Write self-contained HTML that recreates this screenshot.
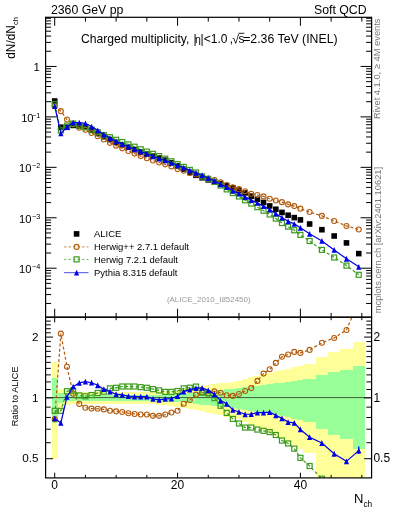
<!DOCTYPE html>
<html><head><meta charset="utf-8"><style>
html,body{margin:0;padding:0;background:#fff;}
svg{display:block;}
text{font-family:"Liberation Sans",sans-serif;}
</style></head><body>
<svg width="393" height="512" viewBox="0 0 393 512">
<rect width="393" height="512" fill="#fff"/>
<clipPath id="cr"><rect x="45.6" y="317.2" width="326" height="160.7"/></clipPath>
<clipPath id="cm"><rect x="45.6" y="17.3" width="326" height="299.9"/></clipPath>
<g clip-path="url(#cr)" shape-rendering="crispEdges">
<rect x="51.63" y="362.33" width="6.14" height="96.38" fill="#ffff99"/>
<rect x="57.77" y="389.14" width="6.14" height="18.49" fill="#ffff99"/>
<rect x="63.91" y="391.15" width="6.14" height="14.07" fill="#ffff99"/>
<rect x="70.06" y="392.13" width="6.14" height="11.95" fill="#ffff99"/>
<rect x="76.2" y="392.38" width="6.14" height="11.42" fill="#ffff99"/>
<rect x="82.34" y="392.38" width="6.14" height="11.42" fill="#ffff99"/>
<rect x="88.48" y="392.38" width="6.14" height="11.42" fill="#ffff99"/>
<rect x="94.63" y="392.38" width="6.14" height="11.42" fill="#ffff99"/>
<rect x="100.77" y="392.38" width="6.14" height="11.42" fill="#ffff99"/>
<rect x="106.91" y="392.38" width="6.14" height="11.42" fill="#ffff99"/>
<rect x="113.05" y="392.38" width="6.14" height="11.42" fill="#ffff99"/>
<rect x="119.2" y="392.38" width="6.14" height="11.42" fill="#ffff99"/>
<rect x="125.34" y="392.38" width="6.14" height="11.42" fill="#ffff99"/>
<rect x="131.48" y="392.38" width="6.14" height="11.42" fill="#ffff99"/>
<rect x="137.62" y="392.21" width="6.14" height="11.77" fill="#ffff99"/>
<rect x="143.77" y="392.01" width="6.14" height="12.21" fill="#ffff99"/>
<rect x="149.91" y="391.8" width="6.14" height="12.65" fill="#ffff99"/>
<rect x="156.05" y="391.47" width="6.14" height="13.36" fill="#ffff99"/>
<rect x="162.19" y="391.15" width="6.14" height="14.07" fill="#ffff99"/>
<rect x="168.34" y="390.54" width="6.14" height="15.39" fill="#ffff99"/>
<rect x="174.48" y="389.94" width="6.14" height="16.72" fill="#ffff99"/>
<rect x="180.62" y="389.14" width="6.14" height="18.49" fill="#ffff99"/>
<rect x="186.76" y="388.17" width="6.14" height="20.67" fill="#ffff99"/>
<rect x="192.91" y="387.22" width="6.14" height="22.85" fill="#ffff99"/>
<rect x="199.05" y="386.27" width="6.14" height="25.04" fill="#ffff99"/>
<rect x="205.19" y="385.33" width="6.14" height="27.24" fill="#ffff99"/>
<rect x="211.33" y="384.38" width="6.14" height="29.51" fill="#ffff99"/>
<rect x="217.48" y="383.44" width="6.14" height="31.78" fill="#ffff99"/>
<rect x="223.62" y="382.51" width="6.14" height="34.07" fill="#ffff99"/>
<rect x="229.76" y="381.58" width="6.14" height="36.38" fill="#ffff99"/>
<rect x="235.9" y="380.67" width="6.14" height="38.69" fill="#ffff99"/>
<rect x="242.05" y="379.06" width="6.14" height="42.87" fill="#ffff99"/>
<rect x="248.19" y="377.47" width="6.14" height="47.1" fill="#ffff99"/>
<rect x="254.33" y="375.92" width="6.14" height="51.39" fill="#ffff99"/>
<rect x="260.47" y="374.39" width="6.14" height="55.74" fill="#ffff99"/>
<rect x="266.62" y="372.88" width="6.14" height="60.15" fill="#ffff99"/>
<rect x="272.76" y="371.44" width="6.14" height="64.52" fill="#ffff99"/>
<rect x="278.9" y="370.03" width="6.14" height="68.97" fill="#ffff99"/>
<rect x="285.04" y="368.63" width="6.14" height="73.5" fill="#ffff99"/>
<rect x="291.19" y="367.26" width="6.14" height="78.12" fill="#ffff99"/>
<rect x="297.33" y="365.91" width="6.14" height="82.86" fill="#ffff99"/>
<rect x="303.47" y="364.4" width="12.28" height="88.37" fill="#ffff99"/>
<rect x="315.76" y="357" width="12.29" height="119.98" fill="#ffff99"/>
<rect x="328.04" y="351.87" width="12.29" height="148.78" fill="#ffff99"/>
<rect x="340.33" y="348.91" width="12.28" height="154.61" fill="#ffff99"/>
<rect x="352.61" y="342.15" width="12.29" height="161.37" fill="#ffff99"/>
<rect x="51.63" y="378.32" width="6.14" height="44.81" fill="#99ff99"/>
<rect x="57.77" y="393.2" width="6.14" height="9.66" fill="#99ff99"/>
<rect x="63.91" y="394.63" width="6.14" height="6.67" fill="#99ff99"/>
<rect x="70.06" y="395.14" width="6.14" height="5.62" fill="#99ff99"/>
<rect x="76.2" y="395.31" width="6.14" height="5.27" fill="#99ff99"/>
<rect x="82.34" y="395.31" width="6.14" height="5.27" fill="#99ff99"/>
<rect x="88.48" y="395.31" width="6.14" height="5.27" fill="#99ff99"/>
<rect x="94.63" y="395.31" width="6.14" height="5.27" fill="#99ff99"/>
<rect x="100.77" y="395.31" width="6.14" height="5.27" fill="#99ff99"/>
<rect x="106.91" y="395.31" width="6.14" height="5.27" fill="#99ff99"/>
<rect x="113.05" y="395.31" width="6.14" height="5.27" fill="#99ff99"/>
<rect x="119.2" y="395.31" width="6.14" height="5.27" fill="#99ff99"/>
<rect x="125.34" y="395.31" width="6.14" height="5.27" fill="#99ff99"/>
<rect x="131.48" y="395.31" width="6.14" height="5.27" fill="#99ff99"/>
<rect x="137.62" y="395.22" width="6.14" height="5.44" fill="#99ff99"/>
<rect x="143.77" y="395.09" width="6.14" height="5.7" fill="#99ff99"/>
<rect x="149.91" y="394.97" width="6.14" height="5.97" fill="#99ff99"/>
<rect x="156.05" y="394.8" width="6.14" height="6.32" fill="#99ff99"/>
<rect x="162.19" y="394.63" width="6.14" height="6.67" fill="#99ff99"/>
<rect x="168.34" y="394.33" width="6.14" height="7.29" fill="#99ff99"/>
<rect x="174.48" y="394.04" width="6.14" height="7.9" fill="#99ff99"/>
<rect x="180.62" y="393.62" width="6.14" height="8.78" fill="#99ff99"/>
<rect x="186.76" y="393" width="6.14" height="10.1" fill="#99ff99"/>
<rect x="192.91" y="392.38" width="6.14" height="11.42" fill="#99ff99"/>
<rect x="199.05" y="391.76" width="6.14" height="12.74" fill="#99ff99"/>
<rect x="205.19" y="391.15" width="6.14" height="14.07" fill="#99ff99"/>
<rect x="211.33" y="390.57" width="6.14" height="15.34" fill="#99ff99"/>
<rect x="217.48" y="389.99" width="6.14" height="16.61" fill="#99ff99"/>
<rect x="223.62" y="389.41" width="6.14" height="17.89" fill="#99ff99"/>
<rect x="229.76" y="388.84" width="6.14" height="19.17" fill="#99ff99"/>
<rect x="235.9" y="388.27" width="6.14" height="20.44" fill="#99ff99"/>
<rect x="242.05" y="387.43" width="6.14" height="22.37" fill="#99ff99"/>
<rect x="248.19" y="386.59" width="6.14" height="24.3" fill="#99ff99"/>
<rect x="254.33" y="385.76" width="6.14" height="26.23" fill="#99ff99"/>
<rect x="260.47" y="384.94" width="6.14" height="28.17" fill="#99ff99"/>
<rect x="266.62" y="384.13" width="6.14" height="30.12" fill="#99ff99"/>
<rect x="272.76" y="383.38" width="6.14" height="31.93" fill="#99ff99"/>
<rect x="278.9" y="382.64" width="6.14" height="33.75" fill="#99ff99"/>
<rect x="285.04" y="381.91" width="6.14" height="35.57" fill="#99ff99"/>
<rect x="291.19" y="381.18" width="6.14" height="37.4" fill="#99ff99"/>
<rect x="297.33" y="380.46" width="6.14" height="39.24" fill="#99ff99"/>
<rect x="303.47" y="379.03" width="12.28" height="42.95" fill="#99ff99"/>
<rect x="315.76" y="375.02" width="12.29" height="53.92" fill="#99ff99"/>
<rect x="328.04" y="372.09" width="12.29" height="62.52" fill="#99ff99"/>
<rect x="340.33" y="370.15" width="12.28" height="68.56" fill="#99ff99"/>
<rect x="352.61" y="365.91" width="12.29" height="82.86" fill="#99ff99"/>
</g>
<line x1="45.6" y1="397.6" x2="371.6" y2="397.6" stroke="#000" stroke-width="0.9" stroke-opacity="0.7"/>
<g clip-path="url(#cr)"><path d="M54.7 419.14 L60.84 333.65 L66.98 366.71 L73.13 393.7 L79.27 403.89 L85.41 407.73 L91.56 408.62 L97.7 408.82 L103.84 409.41 L109.98 410.72 L116.12 411.34 L122.27 411.95 L128.41 413.3 L134.55 413.93 L140.69 414.56 L146.84 414.56 L152.98 415.85 L159.12 415.85 L165.26 414.56 L171.41 412.57 L177.55 410.72 L183.69 403.7 L189.83 400.03 L195.98 394.63 L202.12 392.62 L208.26 393.2 L214.41 391.39 L220.55 392.79 L226.69 395.31 L232.83 395.91 L238.98 394.04 L245.12 391.07 L251.26 388.11 L257.4 380.89 L263.55 373.61 L269.69 369.26 L275.83 362.92 L281.97 356.78 L288.12 354.5 L294.26 351.92 L300.4 352.91 L309.61 349.92 L321.9 342.71 L334.18 337.97 L346.47 329.94 L358.75 301.52" fill="none" stroke="#b35a0a" stroke-width="1.2" stroke-dasharray="3,2.2"/><circle cx="54.7" cy="419.14" r="2.5" fill="none" stroke="#b35a0a" stroke-width="1.1"/><circle cx="60.84" cy="333.65" r="2.5" fill="none" stroke="#b35a0a" stroke-width="1.1"/><circle cx="66.98" cy="366.71" r="2.5" fill="none" stroke="#b35a0a" stroke-width="1.1"/><circle cx="73.13" cy="393.7" r="2.5" fill="none" stroke="#b35a0a" stroke-width="1.1"/><circle cx="79.27" cy="403.89" r="2.5" fill="none" stroke="#b35a0a" stroke-width="1.1"/><circle cx="85.41" cy="407.73" r="2.5" fill="none" stroke="#b35a0a" stroke-width="1.1"/><circle cx="91.56" cy="408.62" r="2.5" fill="none" stroke="#b35a0a" stroke-width="1.1"/><circle cx="97.7" cy="408.82" r="2.5" fill="none" stroke="#b35a0a" stroke-width="1.1"/><circle cx="103.84" cy="409.41" r="2.5" fill="none" stroke="#b35a0a" stroke-width="1.1"/><circle cx="109.98" cy="410.72" r="2.5" fill="none" stroke="#b35a0a" stroke-width="1.1"/><circle cx="116.12" cy="411.34" r="2.5" fill="none" stroke="#b35a0a" stroke-width="1.1"/><circle cx="122.27" cy="411.95" r="2.5" fill="none" stroke="#b35a0a" stroke-width="1.1"/><circle cx="128.41" cy="413.3" r="2.5" fill="none" stroke="#b35a0a" stroke-width="1.1"/><circle cx="134.55" cy="413.93" r="2.5" fill="none" stroke="#b35a0a" stroke-width="1.1"/><circle cx="140.69" cy="414.56" r="2.5" fill="none" stroke="#b35a0a" stroke-width="1.1"/><circle cx="146.84" cy="414.56" r="2.5" fill="none" stroke="#b35a0a" stroke-width="1.1"/><circle cx="152.98" cy="415.85" r="2.5" fill="none" stroke="#b35a0a" stroke-width="1.1"/><circle cx="159.12" cy="415.85" r="2.5" fill="none" stroke="#b35a0a" stroke-width="1.1"/><circle cx="165.26" cy="414.56" r="2.5" fill="none" stroke="#b35a0a" stroke-width="1.1"/><circle cx="171.41" cy="412.57" r="2.5" fill="none" stroke="#b35a0a" stroke-width="1.1"/><circle cx="177.55" cy="410.72" r="2.5" fill="none" stroke="#b35a0a" stroke-width="1.1"/><circle cx="183.69" cy="403.7" r="2.5" fill="none" stroke="#b35a0a" stroke-width="1.1"/><circle cx="189.83" cy="400.03" r="2.5" fill="none" stroke="#b35a0a" stroke-width="1.1"/><circle cx="195.98" cy="394.63" r="2.5" fill="none" stroke="#b35a0a" stroke-width="1.1"/><circle cx="202.12" cy="392.62" r="2.5" fill="none" stroke="#b35a0a" stroke-width="1.1"/><circle cx="208.26" cy="393.2" r="2.5" fill="none" stroke="#b35a0a" stroke-width="1.1"/><circle cx="214.41" cy="391.39" r="2.5" fill="none" stroke="#b35a0a" stroke-width="1.1"/><circle cx="220.55" cy="392.79" r="2.5" fill="none" stroke="#b35a0a" stroke-width="1.1"/><circle cx="226.69" cy="395.31" r="2.5" fill="none" stroke="#b35a0a" stroke-width="1.1"/><circle cx="232.83" cy="395.91" r="2.5" fill="none" stroke="#b35a0a" stroke-width="1.1"/><circle cx="238.98" cy="394.04" r="2.5" fill="none" stroke="#b35a0a" stroke-width="1.1"/><circle cx="245.12" cy="391.07" r="2.5" fill="none" stroke="#b35a0a" stroke-width="1.1"/><circle cx="251.26" cy="388.11" r="2.5" fill="none" stroke="#b35a0a" stroke-width="1.1"/><circle cx="257.4" cy="380.89" r="2.5" fill="none" stroke="#b35a0a" stroke-width="1.1"/><circle cx="263.55" cy="373.61" r="2.5" fill="none" stroke="#b35a0a" stroke-width="1.1"/><circle cx="269.69" cy="369.26" r="2.5" fill="none" stroke="#b35a0a" stroke-width="1.1"/><circle cx="275.83" cy="362.92" r="2.5" fill="none" stroke="#b35a0a" stroke-width="1.1"/><circle cx="281.97" cy="356.78" r="2.5" fill="none" stroke="#b35a0a" stroke-width="1.1"/><circle cx="288.12" cy="354.5" r="2.5" fill="none" stroke="#b35a0a" stroke-width="1.1"/><circle cx="294.26" cy="351.92" r="2.5" fill="none" stroke="#b35a0a" stroke-width="1.1"/><circle cx="300.4" cy="352.91" r="2.5" fill="none" stroke="#b35a0a" stroke-width="1.1"/><circle cx="309.61" cy="349.92" r="2.5" fill="none" stroke="#b35a0a" stroke-width="1.1"/><circle cx="321.9" cy="342.71" r="2.5" fill="none" stroke="#b35a0a" stroke-width="1.1"/><circle cx="334.18" cy="337.97" r="2.5" fill="none" stroke="#b35a0a" stroke-width="1.1"/><circle cx="346.47" cy="329.94" r="2.5" fill="none" stroke="#b35a0a" stroke-width="1.1"/><circle cx="358.75" cy="301.52" r="2.5" fill="none" stroke="#b35a0a" stroke-width="1.1"/></g>
<g clip-path="url(#cr)"><path d="M54.7 410.83 L60.84 410.83 L66.98 391.23 L73.13 390.5 L79.27 395.39 L85.41 396.33 L91.56 395.05 L97.7 392.95 L103.84 391.64 L109.98 388.35 L116.12 387.8 L122.27 386.48 L128.41 386.48 L134.55 386.48 L140.69 387.18 L146.84 387.8 L152.98 389.14 L159.12 390.42 L165.26 391.88 L171.41 391.88 L177.55 390.99 L183.69 388.35 L189.83 387.72 L195.98 386.56 L202.12 392.62 L208.26 393.45 L214.41 398.16 L220.55 405.79 L226.69 412.88 L232.83 418.91 L238.98 423.49 L245.12 427.58 L251.26 427.58 L257.4 429.57 L263.55 430.83 L269.69 432.12 L275.83 435.02 L281.97 440.55 L288.12 443.45 L294.26 448.61 L300.4 457.84 L309.61 466.02 L321.9 478.72 L334.18 483.95 L346.47 488.75 L358.75 482.78" fill="none" stroke="#3c9a1e" stroke-width="1.2" stroke-dasharray="3,2.2"/><rect x="52.2" y="408.33" width="5" height="5" fill="none" stroke="#3c9a1e" stroke-width="1.2"/><rect x="58.34" y="408.33" width="5" height="5" fill="none" stroke="#3c9a1e" stroke-width="1.2"/><rect x="64.48" y="388.73" width="5" height="5" fill="none" stroke="#3c9a1e" stroke-width="1.2"/><rect x="70.63" y="388" width="5" height="5" fill="none" stroke="#3c9a1e" stroke-width="1.2"/><rect x="76.77" y="392.89" width="5" height="5" fill="none" stroke="#3c9a1e" stroke-width="1.2"/><rect x="82.91" y="393.83" width="5" height="5" fill="none" stroke="#3c9a1e" stroke-width="1.2"/><rect x="89.06" y="392.55" width="5" height="5" fill="none" stroke="#3c9a1e" stroke-width="1.2"/><rect x="95.2" y="390.45" width="5" height="5" fill="none" stroke="#3c9a1e" stroke-width="1.2"/><rect x="101.34" y="389.14" width="5" height="5" fill="none" stroke="#3c9a1e" stroke-width="1.2"/><rect x="107.48" y="385.85" width="5" height="5" fill="none" stroke="#3c9a1e" stroke-width="1.2"/><rect x="113.62" y="385.3" width="5" height="5" fill="none" stroke="#3c9a1e" stroke-width="1.2"/><rect x="119.77" y="383.98" width="5" height="5" fill="none" stroke="#3c9a1e" stroke-width="1.2"/><rect x="125.91" y="383.98" width="5" height="5" fill="none" stroke="#3c9a1e" stroke-width="1.2"/><rect x="132.05" y="383.98" width="5" height="5" fill="none" stroke="#3c9a1e" stroke-width="1.2"/><rect x="138.19" y="384.68" width="5" height="5" fill="none" stroke="#3c9a1e" stroke-width="1.2"/><rect x="144.34" y="385.3" width="5" height="5" fill="none" stroke="#3c9a1e" stroke-width="1.2"/><rect x="150.48" y="386.64" width="5" height="5" fill="none" stroke="#3c9a1e" stroke-width="1.2"/><rect x="156.62" y="387.92" width="5" height="5" fill="none" stroke="#3c9a1e" stroke-width="1.2"/><rect x="162.76" y="389.38" width="5" height="5" fill="none" stroke="#3c9a1e" stroke-width="1.2"/><rect x="168.91" y="389.38" width="5" height="5" fill="none" stroke="#3c9a1e" stroke-width="1.2"/><rect x="175.05" y="388.49" width="5" height="5" fill="none" stroke="#3c9a1e" stroke-width="1.2"/><rect x="181.19" y="385.85" width="5" height="5" fill="none" stroke="#3c9a1e" stroke-width="1.2"/><rect x="187.33" y="385.22" width="5" height="5" fill="none" stroke="#3c9a1e" stroke-width="1.2"/><rect x="193.48" y="384.06" width="5" height="5" fill="none" stroke="#3c9a1e" stroke-width="1.2"/><rect x="199.62" y="390.12" width="5" height="5" fill="none" stroke="#3c9a1e" stroke-width="1.2"/><rect x="205.76" y="390.95" width="5" height="5" fill="none" stroke="#3c9a1e" stroke-width="1.2"/><rect x="211.91" y="395.66" width="5" height="5" fill="none" stroke="#3c9a1e" stroke-width="1.2"/><rect x="218.05" y="403.29" width="5" height="5" fill="none" stroke="#3c9a1e" stroke-width="1.2"/><rect x="224.19" y="410.38" width="5" height="5" fill="none" stroke="#3c9a1e" stroke-width="1.2"/><rect x="230.33" y="416.41" width="5" height="5" fill="none" stroke="#3c9a1e" stroke-width="1.2"/><rect x="236.48" y="420.99" width="5" height="5" fill="none" stroke="#3c9a1e" stroke-width="1.2"/><rect x="242.62" y="425.08" width="5" height="5" fill="none" stroke="#3c9a1e" stroke-width="1.2"/><rect x="248.76" y="425.08" width="5" height="5" fill="none" stroke="#3c9a1e" stroke-width="1.2"/><rect x="254.9" y="427.07" width="5" height="5" fill="none" stroke="#3c9a1e" stroke-width="1.2"/><rect x="261.05" y="428.33" width="5" height="5" fill="none" stroke="#3c9a1e" stroke-width="1.2"/><rect x="267.19" y="429.62" width="5" height="5" fill="none" stroke="#3c9a1e" stroke-width="1.2"/><rect x="273.33" y="432.52" width="5" height="5" fill="none" stroke="#3c9a1e" stroke-width="1.2"/><rect x="279.47" y="438.05" width="5" height="5" fill="none" stroke="#3c9a1e" stroke-width="1.2"/><rect x="285.62" y="440.95" width="5" height="5" fill="none" stroke="#3c9a1e" stroke-width="1.2"/><rect x="291.76" y="446.11" width="5" height="5" fill="none" stroke="#3c9a1e" stroke-width="1.2"/><rect x="297.9" y="455.34" width="5" height="5" fill="none" stroke="#3c9a1e" stroke-width="1.2"/><rect x="307.11" y="463.52" width="5" height="5" fill="none" stroke="#3c9a1e" stroke-width="1.2"/><rect x="319.4" y="476.22" width="5" height="5" fill="none" stroke="#3c9a1e" stroke-width="1.2"/><rect x="331.68" y="481.45" width="5" height="5" fill="none" stroke="#3c9a1e" stroke-width="1.2"/><rect x="343.97" y="486.25" width="5" height="5" fill="none" stroke="#3c9a1e" stroke-width="1.2"/><rect x="356.25" y="480.28" width="5" height="5" fill="none" stroke="#3c9a1e" stroke-width="1.2"/></g>
<g clip-path="url(#cr)"><path d="M54.7 418.47 L60.84 422.9 L66.98 396.94 L73.13 386.71 L79.27 382.93 L85.41 381.61 L91.56 382.71 L97.7 385.26 L103.84 389.14 L109.98 391.64 L116.12 394.21 L122.27 394.8 L128.41 396.08 L134.55 396.51 L140.69 396.68 L146.84 396.68 L152.98 398.96 L159.12 399.94 L165.26 398.96 L171.41 398.6 L177.55 396.08 L183.69 391.64 L189.83 389.62 L195.98 388.11 L202.12 387.88 L208.26 390.34 L214.41 394.29 L220.55 400.57 L226.69 403.8 L232.83 409.82 L238.98 411.95 L245.12 414.25 L251.26 414.04 L257.4 412.67 L263.55 412.67 L269.69 412.16 L275.83 415.31 L281.97 418.36 L288.12 422.09 L294.26 422.9 L300.4 429.44 L309.61 437.19 L321.9 443.01 L334.18 453.76 L346.47 461.38 L358.75 450.67" fill="none" stroke="#0000e6" stroke-width="1.2" /><path d="M54.7 415.57L57.3 421.37L52.1 421.37Z" fill="#0000e6"/><path d="M60.84 420L63.44 425.8L58.24 425.8Z" fill="#0000e6"/><path d="M66.98 394.04L69.58 399.84L64.39 399.84Z" fill="#0000e6"/><path d="M73.13 383.81L75.73 389.61L70.53 389.61Z" fill="#0000e6"/><path d="M79.27 380.03L81.87 385.83L76.67 385.83Z" fill="#0000e6"/><path d="M85.41 378.71L88.01 384.51L82.81 384.51Z" fill="#0000e6"/><path d="M91.56 379.81L94.16 385.61L88.96 385.61Z" fill="#0000e6"/><path d="M97.7 382.36L100.3 388.16L95.1 388.16Z" fill="#0000e6"/><path d="M103.84 386.24L106.44 392.04L101.24 392.04Z" fill="#0000e6"/><path d="M109.98 388.74L112.58 394.54L107.38 394.54Z" fill="#0000e6"/><path d="M116.12 391.31L118.72 397.11L113.53 397.11Z" fill="#0000e6"/><path d="M122.27 391.9L124.87 397.7L119.67 397.7Z" fill="#0000e6"/><path d="M128.41 393.18L131.01 398.98L125.81 398.98Z" fill="#0000e6"/><path d="M134.55 393.61L137.15 399.41L131.95 399.41Z" fill="#0000e6"/><path d="M140.69 393.78L143.29 399.58L138.09 399.58Z" fill="#0000e6"/><path d="M146.84 393.78L149.44 399.58L144.24 399.58Z" fill="#0000e6"/><path d="M152.98 396.06L155.58 401.86L150.38 401.86Z" fill="#0000e6"/><path d="M159.12 397.04L161.72 402.84L156.52 402.84Z" fill="#0000e6"/><path d="M165.26 396.06L167.86 401.86L162.66 401.86Z" fill="#0000e6"/><path d="M171.41 395.7L174.01 401.5L168.81 401.5Z" fill="#0000e6"/><path d="M177.55 393.18L180.15 398.98L174.95 398.98Z" fill="#0000e6"/><path d="M183.69 388.74L186.29 394.54L181.09 394.54Z" fill="#0000e6"/><path d="M189.83 386.72L192.43 392.52L187.23 392.52Z" fill="#0000e6"/><path d="M195.98 385.21L198.58 391.01L193.38 391.01Z" fill="#0000e6"/><path d="M202.12 384.98L204.72 390.78L199.52 390.78Z" fill="#0000e6"/><path d="M208.26 387.44L210.86 393.24L205.66 393.24Z" fill="#0000e6"/><path d="M214.41 391.39L217.01 397.19L211.81 397.19Z" fill="#0000e6"/><path d="M220.55 397.67L223.15 403.47L217.95 403.47Z" fill="#0000e6"/><path d="M226.69 400.9L229.29 406.7L224.09 406.7Z" fill="#0000e6"/><path d="M232.83 406.92L235.43 412.72L230.23 412.72Z" fill="#0000e6"/><path d="M238.98 409.05L241.58 414.85L236.38 414.85Z" fill="#0000e6"/><path d="M245.12 411.35L247.72 417.15L242.52 417.15Z" fill="#0000e6"/><path d="M251.26 411.14L253.86 416.94L248.66 416.94Z" fill="#0000e6"/><path d="M257.4 409.77L260 415.57L254.8 415.57Z" fill="#0000e6"/><path d="M263.55 409.77L266.15 415.57L260.94 415.57Z" fill="#0000e6"/><path d="M269.69 409.26L272.29 415.06L267.09 415.06Z" fill="#0000e6"/><path d="M275.83 412.41L278.43 418.21L273.23 418.21Z" fill="#0000e6"/><path d="M281.97 415.46L284.57 421.26L279.37 421.26Z" fill="#0000e6"/><path d="M288.12 419.19L290.72 424.99L285.51 424.99Z" fill="#0000e6"/><path d="M294.26 420L296.86 425.8L291.66 425.8Z" fill="#0000e6"/><path d="M300.4 426.54L303 432.34L297.8 432.34Z" fill="#0000e6"/><path d="M309.61 434.29L312.21 440.09L307.01 440.09Z" fill="#0000e6"/><path d="M321.9 440.11L324.5 445.91L319.3 445.91Z" fill="#0000e6"/><path d="M334.18 450.86L336.78 456.66L331.58 456.66Z" fill="#0000e6"/><path d="M346.47 458.48L349.07 464.28L343.87 464.28Z" fill="#0000e6"/><path d="M358.75 447.77L361.35 453.57L356.15 453.57Z" fill="#0000e6"/></g>
<line x1="358.75" y1="446.6" x2="358.75" y2="454" stroke="#0000e6" stroke-width="1.3"/>
<g clip-path="url(#cm)">
<rect x="51.9" y="98.2" width="5.6" height="5.6" fill="#000"/>
<rect x="58.04" y="124.4" width="5.6" height="5.6" fill="#000"/>
<rect x="64.19" y="124.5" width="5.6" height="5.6" fill="#000"/>
<rect x="70.33" y="122.6" width="5.6" height="5.6" fill="#000"/>
<rect x="76.47" y="123.5" width="5.6" height="5.6" fill="#000"/>
<rect x="82.61" y="124.6" width="5.6" height="5.6" fill="#000"/>
<rect x="88.76" y="127.52" width="5.6" height="5.6" fill="#000"/>
<rect x="94.9" y="130.67" width="5.6" height="5.6" fill="#000"/>
<rect x="101.04" y="133.88" width="5.6" height="5.6" fill="#000"/>
<rect x="107.18" y="136.82" width="5.6" height="5.6" fill="#000"/>
<rect x="113.33" y="139.5" width="5.6" height="5.6" fill="#000"/>
<rect x="119.47" y="142.05" width="5.6" height="5.6" fill="#000"/>
<rect x="125.61" y="144.42" width="5.6" height="5.6" fill="#000"/>
<rect x="131.75" y="146.77" width="5.6" height="5.6" fill="#000"/>
<rect x="137.89" y="149.15" width="5.6" height="5.6" fill="#000"/>
<rect x="144.04" y="151.3" width="5.6" height="5.6" fill="#000"/>
<rect x="150.18" y="153.22" width="5.6" height="5.6" fill="#000"/>
<rect x="156.32" y="155.18" width="5.6" height="5.6" fill="#000"/>
<rect x="162.46" y="157.38" width="5.6" height="5.6" fill="#000"/>
<rect x="168.61" y="159.95" width="5.6" height="5.6" fill="#000"/>
<rect x="174.75" y="163.07" width="5.6" height="5.6" fill="#000"/>
<rect x="180.89" y="166.48" width="5.6" height="5.6" fill="#000"/>
<rect x="187.03" y="169.65" width="5.6" height="5.6" fill="#000"/>
<rect x="193.18" y="172.5" width="5.6" height="5.6" fill="#000"/>
<rect x="199.32" y="174.97" width="5.6" height="5.6" fill="#000"/>
<rect x="205.46" y="177.1" width="5.6" height="5.6" fill="#000"/>
<rect x="211.61" y="178.98" width="5.6" height="5.6" fill="#000"/>
<rect x="217.75" y="180.8" width="5.6" height="5.6" fill="#000"/>
<rect x="223.89" y="182.85" width="5.6" height="5.6" fill="#000"/>
<rect x="230.03" y="185.02" width="5.6" height="5.6" fill="#000"/>
<rect x="236.18" y="187.3" width="5.6" height="5.6" fill="#000"/>
<rect x="242.32" y="190.1" width="5.6" height="5.6" fill="#000"/>
<rect x="248.46" y="193.35" width="5.6" height="5.6" fill="#000"/>
<rect x="254.6" y="196.47" width="5.6" height="5.6" fill="#000"/>
<rect x="260.75" y="199.65" width="5.6" height="5.6" fill="#000"/>
<rect x="266.89" y="203.12" width="5.6" height="5.6" fill="#000"/>
<rect x="273.03" y="206.5" width="5.6" height="5.6" fill="#000"/>
<rect x="279.17" y="209.62" width="5.6" height="5.6" fill="#000"/>
<rect x="285.31" y="212.42" width="5.6" height="5.6" fill="#000"/>
<rect x="291.46" y="214.8" width="5.6" height="5.6" fill="#000"/>
<rect x="297.6" y="217.1" width="5.6" height="5.6" fill="#000"/>
<rect x="306.81" y="221.2" width="5.6" height="5.6" fill="#000"/>
<rect x="319.1" y="226.9" width="5.6" height="5.6" fill="#000"/>
<rect x="331.38" y="233.2" width="5.6" height="5.6" fill="#000"/>
<rect x="343.67" y="240.1" width="5.6" height="5.6" fill="#000"/>
<rect x="355.95" y="250.8" width="5.6" height="5.6" fill="#000"/>
</g>
<g clip-path="url(#cm)"><path d="M54.7 106.3 L60.84 111.16 L66.98 119.51 L73.13 124.35 L79.27 127.8 L85.41 129.85 L91.56 133 L97.7 136.2 L103.84 139.55 L109.98 142.83 L116.12 145.65 L122.27 148.36 L128.41 151.07 L134.55 153.58 L140.69 156.11 L146.84 158.26 L152.98 160.51 L159.12 162.46 L165.26 164.34 L171.41 166.41 L177.55 169.08 L183.69 170.72 L189.83 172.98 L195.98 174.48 L202.12 176.46 L208.26 178.73 L214.41 180.15 L220.55 182.32 L226.69 185 L232.83 187.33 L238.98 189.14 L245.12 191.19 L251.26 193.71 L257.4 195.03 L263.55 196.38 L269.69 198.77 L275.83 200.56 L281.97 202.16 L288.12 204.39 L294.26 206.12 L300.4 208.67 L309.61 212.02 L321.9 215.92 L334.18 221.04 L346.47 225.93 L358.75 229.53" fill="none" stroke="#b35a0a" stroke-width="1.2" stroke-dasharray="3,2.2"/><circle cx="54.7" cy="106.3" r="2.5" fill="none" stroke="#b35a0a" stroke-width="1.1"/><circle cx="60.84" cy="111.16" r="2.5" fill="none" stroke="#b35a0a" stroke-width="1.1"/><circle cx="66.98" cy="119.51" r="2.5" fill="none" stroke="#b35a0a" stroke-width="1.1"/><circle cx="73.13" cy="124.35" r="2.5" fill="none" stroke="#b35a0a" stroke-width="1.1"/><circle cx="79.27" cy="127.8" r="2.5" fill="none" stroke="#b35a0a" stroke-width="1.1"/><circle cx="85.41" cy="129.85" r="2.5" fill="none" stroke="#b35a0a" stroke-width="1.1"/><circle cx="91.56" cy="133" r="2.5" fill="none" stroke="#b35a0a" stroke-width="1.1"/><circle cx="97.7" cy="136.2" r="2.5" fill="none" stroke="#b35a0a" stroke-width="1.1"/><circle cx="103.84" cy="139.55" r="2.5" fill="none" stroke="#b35a0a" stroke-width="1.1"/><circle cx="109.98" cy="142.83" r="2.5" fill="none" stroke="#b35a0a" stroke-width="1.1"/><circle cx="116.12" cy="145.65" r="2.5" fill="none" stroke="#b35a0a" stroke-width="1.1"/><circle cx="122.27" cy="148.36" r="2.5" fill="none" stroke="#b35a0a" stroke-width="1.1"/><circle cx="128.41" cy="151.07" r="2.5" fill="none" stroke="#b35a0a" stroke-width="1.1"/><circle cx="134.55" cy="153.58" r="2.5" fill="none" stroke="#b35a0a" stroke-width="1.1"/><circle cx="140.69" cy="156.11" r="2.5" fill="none" stroke="#b35a0a" stroke-width="1.1"/><circle cx="146.84" cy="158.26" r="2.5" fill="none" stroke="#b35a0a" stroke-width="1.1"/><circle cx="152.98" cy="160.51" r="2.5" fill="none" stroke="#b35a0a" stroke-width="1.1"/><circle cx="159.12" cy="162.46" r="2.5" fill="none" stroke="#b35a0a" stroke-width="1.1"/><circle cx="165.26" cy="164.34" r="2.5" fill="none" stroke="#b35a0a" stroke-width="1.1"/><circle cx="171.41" cy="166.41" r="2.5" fill="none" stroke="#b35a0a" stroke-width="1.1"/><circle cx="177.55" cy="169.08" r="2.5" fill="none" stroke="#b35a0a" stroke-width="1.1"/><circle cx="183.69" cy="170.72" r="2.5" fill="none" stroke="#b35a0a" stroke-width="1.1"/><circle cx="189.83" cy="172.98" r="2.5" fill="none" stroke="#b35a0a" stroke-width="1.1"/><circle cx="195.98" cy="174.48" r="2.5" fill="none" stroke="#b35a0a" stroke-width="1.1"/><circle cx="202.12" cy="176.46" r="2.5" fill="none" stroke="#b35a0a" stroke-width="1.1"/><circle cx="208.26" cy="178.73" r="2.5" fill="none" stroke="#b35a0a" stroke-width="1.1"/><circle cx="214.41" cy="180.15" r="2.5" fill="none" stroke="#b35a0a" stroke-width="1.1"/><circle cx="220.55" cy="182.32" r="2.5" fill="none" stroke="#b35a0a" stroke-width="1.1"/><circle cx="226.69" cy="185" r="2.5" fill="none" stroke="#b35a0a" stroke-width="1.1"/><circle cx="232.83" cy="187.33" r="2.5" fill="none" stroke="#b35a0a" stroke-width="1.1"/><circle cx="238.98" cy="189.14" r="2.5" fill="none" stroke="#b35a0a" stroke-width="1.1"/><circle cx="245.12" cy="191.19" r="2.5" fill="none" stroke="#b35a0a" stroke-width="1.1"/><circle cx="251.26" cy="193.71" r="2.5" fill="none" stroke="#b35a0a" stroke-width="1.1"/><circle cx="257.4" cy="195.03" r="2.5" fill="none" stroke="#b35a0a" stroke-width="1.1"/><circle cx="263.55" cy="196.38" r="2.5" fill="none" stroke="#b35a0a" stroke-width="1.1"/><circle cx="269.69" cy="198.77" r="2.5" fill="none" stroke="#b35a0a" stroke-width="1.1"/><circle cx="275.83" cy="200.56" r="2.5" fill="none" stroke="#b35a0a" stroke-width="1.1"/><circle cx="281.97" cy="202.16" r="2.5" fill="none" stroke="#b35a0a" stroke-width="1.1"/><circle cx="288.12" cy="204.39" r="2.5" fill="none" stroke="#b35a0a" stroke-width="1.1"/><circle cx="294.26" cy="206.12" r="2.5" fill="none" stroke="#b35a0a" stroke-width="1.1"/><circle cx="300.4" cy="208.67" r="2.5" fill="none" stroke="#b35a0a" stroke-width="1.1"/><circle cx="309.61" cy="212.02" r="2.5" fill="none" stroke="#b35a0a" stroke-width="1.1"/><circle cx="321.9" cy="215.92" r="2.5" fill="none" stroke="#b35a0a" stroke-width="1.1"/><circle cx="334.18" cy="221.04" r="2.5" fill="none" stroke="#b35a0a" stroke-width="1.1"/><circle cx="346.47" cy="225.93" r="2.5" fill="none" stroke="#b35a0a" stroke-width="1.1"/><circle cx="358.75" cy="229.53" r="2.5" fill="none" stroke="#b35a0a" stroke-width="1.1"/></g>
<g clip-path="url(#cm)"><path d="M54.7 104.23 L60.84 130.43 L66.98 125.63 L73.13 123.55 L79.27 125.67 L85.41 127.01 L91.56 129.61 L97.7 132.24 L103.84 135.11 L109.98 137.24 L116.12 139.78 L122.27 142 L128.41 144.37 L134.55 146.72 L140.69 149.27 L146.84 151.58 L152.98 153.84 L159.12 156.11 L165.26 158.67 L171.41 161.25 L177.55 164.15 L183.69 166.89 L189.83 169.91 L195.98 172.47 L202.12 176.46 L208.26 178.79 L214.41 181.84 L220.55 185.57 L226.69 189.39 L232.83 193.07 L238.98 196.49 L245.12 200.31 L251.26 203.56 L257.4 207.18 L263.55 210.67 L269.69 214.47 L275.83 218.57 L281.97 223.07 L288.12 226.6 L294.26 230.26 L300.4 234.87 L309.61 241.01 L321.9 249.88 L334.18 257.49 L346.47 265.59 L358.75 274.8" fill="none" stroke="#3c9a1e" stroke-width="1.2" stroke-dasharray="3,2.2"/><rect x="52.2" y="101.73" width="5" height="5" fill="none" stroke="#3c9a1e" stroke-width="1.2"/><rect x="58.34" y="127.93" width="5" height="5" fill="none" stroke="#3c9a1e" stroke-width="1.2"/><rect x="64.48" y="123.13" width="5" height="5" fill="none" stroke="#3c9a1e" stroke-width="1.2"/><rect x="70.63" y="121.05" width="5" height="5" fill="none" stroke="#3c9a1e" stroke-width="1.2"/><rect x="76.77" y="123.17" width="5" height="5" fill="none" stroke="#3c9a1e" stroke-width="1.2"/><rect x="82.91" y="124.51" width="5" height="5" fill="none" stroke="#3c9a1e" stroke-width="1.2"/><rect x="89.06" y="127.11" width="5" height="5" fill="none" stroke="#3c9a1e" stroke-width="1.2"/><rect x="95.2" y="129.74" width="5" height="5" fill="none" stroke="#3c9a1e" stroke-width="1.2"/><rect x="101.34" y="132.61" width="5" height="5" fill="none" stroke="#3c9a1e" stroke-width="1.2"/><rect x="107.48" y="134.74" width="5" height="5" fill="none" stroke="#3c9a1e" stroke-width="1.2"/><rect x="113.62" y="137.28" width="5" height="5" fill="none" stroke="#3c9a1e" stroke-width="1.2"/><rect x="119.77" y="139.5" width="5" height="5" fill="none" stroke="#3c9a1e" stroke-width="1.2"/><rect x="125.91" y="141.87" width="5" height="5" fill="none" stroke="#3c9a1e" stroke-width="1.2"/><rect x="132.05" y="144.22" width="5" height="5" fill="none" stroke="#3c9a1e" stroke-width="1.2"/><rect x="138.19" y="146.77" width="5" height="5" fill="none" stroke="#3c9a1e" stroke-width="1.2"/><rect x="144.34" y="149.08" width="5" height="5" fill="none" stroke="#3c9a1e" stroke-width="1.2"/><rect x="150.48" y="151.34" width="5" height="5" fill="none" stroke="#3c9a1e" stroke-width="1.2"/><rect x="156.62" y="153.61" width="5" height="5" fill="none" stroke="#3c9a1e" stroke-width="1.2"/><rect x="162.76" y="156.17" width="5" height="5" fill="none" stroke="#3c9a1e" stroke-width="1.2"/><rect x="168.91" y="158.75" width="5" height="5" fill="none" stroke="#3c9a1e" stroke-width="1.2"/><rect x="175.05" y="161.65" width="5" height="5" fill="none" stroke="#3c9a1e" stroke-width="1.2"/><rect x="181.19" y="164.39" width="5" height="5" fill="none" stroke="#3c9a1e" stroke-width="1.2"/><rect x="187.33" y="167.41" width="5" height="5" fill="none" stroke="#3c9a1e" stroke-width="1.2"/><rect x="193.48" y="169.97" width="5" height="5" fill="none" stroke="#3c9a1e" stroke-width="1.2"/><rect x="199.62" y="173.96" width="5" height="5" fill="none" stroke="#3c9a1e" stroke-width="1.2"/><rect x="205.76" y="176.29" width="5" height="5" fill="none" stroke="#3c9a1e" stroke-width="1.2"/><rect x="211.91" y="179.34" width="5" height="5" fill="none" stroke="#3c9a1e" stroke-width="1.2"/><rect x="218.05" y="183.07" width="5" height="5" fill="none" stroke="#3c9a1e" stroke-width="1.2"/><rect x="224.19" y="186.89" width="5" height="5" fill="none" stroke="#3c9a1e" stroke-width="1.2"/><rect x="230.33" y="190.57" width="5" height="5" fill="none" stroke="#3c9a1e" stroke-width="1.2"/><rect x="236.48" y="193.99" width="5" height="5" fill="none" stroke="#3c9a1e" stroke-width="1.2"/><rect x="242.62" y="197.81" width="5" height="5" fill="none" stroke="#3c9a1e" stroke-width="1.2"/><rect x="248.76" y="201.06" width="5" height="5" fill="none" stroke="#3c9a1e" stroke-width="1.2"/><rect x="254.9" y="204.68" width="5" height="5" fill="none" stroke="#3c9a1e" stroke-width="1.2"/><rect x="261.05" y="208.17" width="5" height="5" fill="none" stroke="#3c9a1e" stroke-width="1.2"/><rect x="267.19" y="211.97" width="5" height="5" fill="none" stroke="#3c9a1e" stroke-width="1.2"/><rect x="273.33" y="216.07" width="5" height="5" fill="none" stroke="#3c9a1e" stroke-width="1.2"/><rect x="279.47" y="220.57" width="5" height="5" fill="none" stroke="#3c9a1e" stroke-width="1.2"/><rect x="285.62" y="224.1" width="5" height="5" fill="none" stroke="#3c9a1e" stroke-width="1.2"/><rect x="291.76" y="227.76" width="5" height="5" fill="none" stroke="#3c9a1e" stroke-width="1.2"/><rect x="297.9" y="232.37" width="5" height="5" fill="none" stroke="#3c9a1e" stroke-width="1.2"/><rect x="307.11" y="238.51" width="5" height="5" fill="none" stroke="#3c9a1e" stroke-width="1.2"/><rect x="319.4" y="247.38" width="5" height="5" fill="none" stroke="#3c9a1e" stroke-width="1.2"/><rect x="331.68" y="254.99" width="5" height="5" fill="none" stroke="#3c9a1e" stroke-width="1.2"/><rect x="343.97" y="263.09" width="5" height="5" fill="none" stroke="#3c9a1e" stroke-width="1.2"/><rect x="356.25" y="272.3" width="5" height="5" fill="none" stroke="#3c9a1e" stroke-width="1.2"/></g>
<g clip-path="url(#cm)"><path d="M54.7 106.14 L60.84 133.44 L66.98 127.06 L73.13 122.61 L79.27 122.56 L85.41 123.33 L91.56 126.53 L97.7 130.32 L103.84 134.49 L109.98 138.06 L116.12 141.38 L122.27 144.08 L128.41 146.77 L134.55 149.23 L140.69 151.65 L146.84 153.8 L152.98 156.29 L159.12 158.48 L165.26 160.44 L171.41 162.93 L177.55 165.42 L183.69 167.71 L189.83 170.38 L195.98 172.86 L202.12 175.27 L208.26 178.01 L214.41 180.87 L220.55 184.27 L226.69 187.12 L232.83 190.8 L238.98 193.61 L245.12 196.98 L251.26 200.18 L257.4 202.96 L263.55 206.14 L269.69 209.49 L275.83 213.65 L281.97 217.53 L288.12 221.27 L294.26 223.84 L300.4 227.78 L309.61 233.81 L321.9 240.96 L334.18 249.95 L346.47 258.75 L358.75 266.78" fill="none" stroke="#0000e6" stroke-width="1.2" /><path d="M54.7 103.24L57.3 109.04L52.1 109.04Z" fill="#0000e6"/><path d="M60.84 130.54L63.44 136.34L58.24 136.34Z" fill="#0000e6"/><path d="M66.98 124.16L69.58 129.96L64.39 129.96Z" fill="#0000e6"/><path d="M73.13 119.71L75.73 125.51L70.53 125.51Z" fill="#0000e6"/><path d="M79.27 119.66L81.87 125.46L76.67 125.46Z" fill="#0000e6"/><path d="M85.41 120.43L88.01 126.23L82.81 126.23Z" fill="#0000e6"/><path d="M91.56 123.63L94.16 129.43L88.96 129.43Z" fill="#0000e6"/><path d="M97.7 127.42L100.3 133.22L95.1 133.22Z" fill="#0000e6"/><path d="M103.84 131.59L106.44 137.39L101.24 137.39Z" fill="#0000e6"/><path d="M109.98 135.16L112.58 140.96L107.38 140.96Z" fill="#0000e6"/><path d="M116.12 138.48L118.72 144.28L113.53 144.28Z" fill="#0000e6"/><path d="M122.27 141.18L124.87 146.98L119.67 146.98Z" fill="#0000e6"/><path d="M128.41 143.87L131.01 149.67L125.81 149.67Z" fill="#0000e6"/><path d="M134.55 146.33L137.15 152.13L131.95 152.13Z" fill="#0000e6"/><path d="M140.69 148.75L143.29 154.55L138.09 154.55Z" fill="#0000e6"/><path d="M146.84 150.9L149.44 156.7L144.24 156.7Z" fill="#0000e6"/><path d="M152.98 153.39L155.58 159.19L150.38 159.19Z" fill="#0000e6"/><path d="M159.12 155.58L161.72 161.38L156.52 161.38Z" fill="#0000e6"/><path d="M165.26 157.54L167.86 163.34L162.66 163.34Z" fill="#0000e6"/><path d="M171.41 160.03L174.01 165.83L168.81 165.83Z" fill="#0000e6"/><path d="M177.55 162.52L180.15 168.32L174.95 168.32Z" fill="#0000e6"/><path d="M183.69 164.81L186.29 170.61L181.09 170.61Z" fill="#0000e6"/><path d="M189.83 167.48L192.43 173.28L187.23 173.28Z" fill="#0000e6"/><path d="M195.98 169.96L198.58 175.76L193.38 175.76Z" fill="#0000e6"/><path d="M202.12 172.37L204.72 178.17L199.52 178.17Z" fill="#0000e6"/><path d="M208.26 175.11L210.86 180.91L205.66 180.91Z" fill="#0000e6"/><path d="M214.41 177.97L217.01 183.77L211.81 183.77Z" fill="#0000e6"/><path d="M220.55 181.37L223.15 187.17L217.95 187.17Z" fill="#0000e6"/><path d="M226.69 184.22L229.29 190.02L224.09 190.02Z" fill="#0000e6"/><path d="M232.83 187.9L235.43 193.7L230.23 193.7Z" fill="#0000e6"/><path d="M238.98 190.71L241.58 196.51L236.38 196.51Z" fill="#0000e6"/><path d="M245.12 194.08L247.72 199.88L242.52 199.88Z" fill="#0000e6"/><path d="M251.26 197.28L253.86 203.08L248.66 203.08Z" fill="#0000e6"/><path d="M257.4 200.06L260 205.86L254.8 205.86Z" fill="#0000e6"/><path d="M263.55 203.24L266.15 209.04L260.94 209.04Z" fill="#0000e6"/><path d="M269.69 206.59L272.29 212.39L267.09 212.39Z" fill="#0000e6"/><path d="M275.83 210.75L278.43 216.55L273.23 216.55Z" fill="#0000e6"/><path d="M281.97 214.63L284.57 220.43L279.37 220.43Z" fill="#0000e6"/><path d="M288.12 218.37L290.72 224.17L285.51 224.17Z" fill="#0000e6"/><path d="M294.26 220.94L296.86 226.74L291.66 226.74Z" fill="#0000e6"/><path d="M300.4 224.88L303 230.68L297.8 230.68Z" fill="#0000e6"/><path d="M309.61 230.91L312.21 236.71L307.01 236.71Z" fill="#0000e6"/><path d="M321.9 238.06L324.5 243.86L319.3 243.86Z" fill="#0000e6"/><path d="M334.18 247.05L336.78 252.85L331.58 252.85Z" fill="#0000e6"/><path d="M346.47 255.85L349.07 261.65L343.87 261.65Z" fill="#0000e6"/><path d="M358.75 263.88L361.35 269.68L356.15 269.68Z" fill="#0000e6"/></g>
<g><rect x="45.6" y="17.3" width="326" height="299.9" fill="none" stroke="#000" stroke-width="1.2"/><rect x="45.6" y="317.2" width="326" height="160.7" fill="none" stroke="#000" stroke-width="1.2"/><line x1="54.7" y1="17.3" x2="54.7" y2="25.8" stroke="#000" stroke-width="1.0"/><line x1="54.7" y1="308.7" x2="54.7" y2="317.2" stroke="#000" stroke-width="1.0"/><line x1="54.7" y1="317.2" x2="54.7" y2="322.4" stroke="#000" stroke-width="1.0"/><line x1="54.7" y1="472.7" x2="54.7" y2="477.9" stroke="#000" stroke-width="1.0"/><line x1="85.41" y1="17.3" x2="85.41" y2="21.6" stroke="#000" stroke-width="1.0"/><line x1="85.41" y1="312.9" x2="85.41" y2="317.2" stroke="#000" stroke-width="1.0"/><line x1="85.41" y1="317.2" x2="85.41" y2="320.2" stroke="#000" stroke-width="1.0"/><line x1="85.41" y1="474.9" x2="85.41" y2="477.9" stroke="#000" stroke-width="1.0"/><line x1="116.12" y1="17.3" x2="116.12" y2="21.6" stroke="#000" stroke-width="1.0"/><line x1="116.12" y1="312.9" x2="116.12" y2="317.2" stroke="#000" stroke-width="1.0"/><line x1="116.12" y1="317.2" x2="116.12" y2="320.2" stroke="#000" stroke-width="1.0"/><line x1="116.12" y1="474.9" x2="116.12" y2="477.9" stroke="#000" stroke-width="1.0"/><line x1="146.84" y1="17.3" x2="146.84" y2="21.6" stroke="#000" stroke-width="1.0"/><line x1="146.84" y1="312.9" x2="146.84" y2="317.2" stroke="#000" stroke-width="1.0"/><line x1="146.84" y1="317.2" x2="146.84" y2="320.2" stroke="#000" stroke-width="1.0"/><line x1="146.84" y1="474.9" x2="146.84" y2="477.9" stroke="#000" stroke-width="1.0"/><line x1="177.55" y1="17.3" x2="177.55" y2="25.8" stroke="#000" stroke-width="1.0"/><line x1="177.55" y1="308.7" x2="177.55" y2="317.2" stroke="#000" stroke-width="1.0"/><line x1="177.55" y1="317.2" x2="177.55" y2="322.4" stroke="#000" stroke-width="1.0"/><line x1="177.55" y1="472.7" x2="177.55" y2="477.9" stroke="#000" stroke-width="1.0"/><line x1="208.26" y1="17.3" x2="208.26" y2="21.6" stroke="#000" stroke-width="1.0"/><line x1="208.26" y1="312.9" x2="208.26" y2="317.2" stroke="#000" stroke-width="1.0"/><line x1="208.26" y1="317.2" x2="208.26" y2="320.2" stroke="#000" stroke-width="1.0"/><line x1="208.26" y1="474.9" x2="208.26" y2="477.9" stroke="#000" stroke-width="1.0"/><line x1="238.98" y1="17.3" x2="238.98" y2="21.6" stroke="#000" stroke-width="1.0"/><line x1="238.98" y1="312.9" x2="238.98" y2="317.2" stroke="#000" stroke-width="1.0"/><line x1="238.98" y1="317.2" x2="238.98" y2="320.2" stroke="#000" stroke-width="1.0"/><line x1="238.98" y1="474.9" x2="238.98" y2="477.9" stroke="#000" stroke-width="1.0"/><line x1="269.69" y1="17.3" x2="269.69" y2="21.6" stroke="#000" stroke-width="1.0"/><line x1="269.69" y1="312.9" x2="269.69" y2="317.2" stroke="#000" stroke-width="1.0"/><line x1="269.69" y1="317.2" x2="269.69" y2="320.2" stroke="#000" stroke-width="1.0"/><line x1="269.69" y1="474.9" x2="269.69" y2="477.9" stroke="#000" stroke-width="1.0"/><line x1="300.4" y1="17.3" x2="300.4" y2="25.8" stroke="#000" stroke-width="1.0"/><line x1="300.4" y1="308.7" x2="300.4" y2="317.2" stroke="#000" stroke-width="1.0"/><line x1="300.4" y1="317.2" x2="300.4" y2="322.4" stroke="#000" stroke-width="1.0"/><line x1="300.4" y1="472.7" x2="300.4" y2="477.9" stroke="#000" stroke-width="1.0"/><line x1="331.11" y1="17.3" x2="331.11" y2="21.6" stroke="#000" stroke-width="1.0"/><line x1="331.11" y1="312.9" x2="331.11" y2="317.2" stroke="#000" stroke-width="1.0"/><line x1="331.11" y1="317.2" x2="331.11" y2="320.2" stroke="#000" stroke-width="1.0"/><line x1="331.11" y1="474.9" x2="331.11" y2="477.9" stroke="#000" stroke-width="1.0"/><line x1="361.82" y1="17.3" x2="361.82" y2="21.6" stroke="#000" stroke-width="1.0"/><line x1="361.82" y1="312.9" x2="361.82" y2="317.2" stroke="#000" stroke-width="1.0"/><line x1="361.82" y1="317.2" x2="361.82" y2="320.2" stroke="#000" stroke-width="1.0"/><line x1="361.82" y1="474.9" x2="361.82" y2="477.9" stroke="#000" stroke-width="1.0"/><line x1="45.6" y1="303.47" x2="51.1" y2="303.47" stroke="#000" stroke-width="1.0"/><line x1="366.1" y1="303.47" x2="371.6" y2="303.47" stroke="#000" stroke-width="1.0"/><line x1="45.6" y1="294.58" x2="51.1" y2="294.58" stroke="#000" stroke-width="1.0"/><line x1="366.1" y1="294.58" x2="371.6" y2="294.58" stroke="#000" stroke-width="1.0"/><line x1="45.6" y1="288.28" x2="51.1" y2="288.28" stroke="#000" stroke-width="1.0"/><line x1="366.1" y1="288.28" x2="371.6" y2="288.28" stroke="#000" stroke-width="1.0"/><line x1="45.6" y1="283.39" x2="51.1" y2="283.39" stroke="#000" stroke-width="1.0"/><line x1="366.1" y1="283.39" x2="371.6" y2="283.39" stroke="#000" stroke-width="1.0"/><line x1="45.6" y1="279.4" x2="51.1" y2="279.4" stroke="#000" stroke-width="1.0"/><line x1="366.1" y1="279.4" x2="371.6" y2="279.4" stroke="#000" stroke-width="1.0"/><line x1="45.6" y1="276.02" x2="51.1" y2="276.02" stroke="#000" stroke-width="1.0"/><line x1="366.1" y1="276.02" x2="371.6" y2="276.02" stroke="#000" stroke-width="1.0"/><line x1="45.6" y1="273.1" x2="51.1" y2="273.1" stroke="#000" stroke-width="1.0"/><line x1="366.1" y1="273.1" x2="371.6" y2="273.1" stroke="#000" stroke-width="1.0"/><line x1="45.6" y1="270.52" x2="51.1" y2="270.52" stroke="#000" stroke-width="1.0"/><line x1="366.1" y1="270.52" x2="371.6" y2="270.52" stroke="#000" stroke-width="1.0"/><line x1="45.6" y1="268.21" x2="56.6" y2="268.21" stroke="#000" stroke-width="1.0"/><line x1="360.6" y1="268.21" x2="371.6" y2="268.21" stroke="#000" stroke-width="1.0"/><line x1="45.6" y1="253.03" x2="51.1" y2="253.03" stroke="#000" stroke-width="1.0"/><line x1="366.1" y1="253.03" x2="371.6" y2="253.03" stroke="#000" stroke-width="1.0"/><line x1="45.6" y1="244.14" x2="51.1" y2="244.14" stroke="#000" stroke-width="1.0"/><line x1="366.1" y1="244.14" x2="371.6" y2="244.14" stroke="#000" stroke-width="1.0"/><line x1="45.6" y1="237.84" x2="51.1" y2="237.84" stroke="#000" stroke-width="1.0"/><line x1="366.1" y1="237.84" x2="371.6" y2="237.84" stroke="#000" stroke-width="1.0"/><line x1="45.6" y1="232.95" x2="51.1" y2="232.95" stroke="#000" stroke-width="1.0"/><line x1="366.1" y1="232.95" x2="371.6" y2="232.95" stroke="#000" stroke-width="1.0"/><line x1="45.6" y1="228.96" x2="51.1" y2="228.96" stroke="#000" stroke-width="1.0"/><line x1="366.1" y1="228.96" x2="371.6" y2="228.96" stroke="#000" stroke-width="1.0"/><line x1="45.6" y1="225.58" x2="51.1" y2="225.58" stroke="#000" stroke-width="1.0"/><line x1="366.1" y1="225.58" x2="371.6" y2="225.58" stroke="#000" stroke-width="1.0"/><line x1="45.6" y1="222.66" x2="51.1" y2="222.66" stroke="#000" stroke-width="1.0"/><line x1="366.1" y1="222.66" x2="371.6" y2="222.66" stroke="#000" stroke-width="1.0"/><line x1="45.6" y1="220.08" x2="51.1" y2="220.08" stroke="#000" stroke-width="1.0"/><line x1="366.1" y1="220.08" x2="371.6" y2="220.08" stroke="#000" stroke-width="1.0"/><line x1="45.6" y1="217.77" x2="56.6" y2="217.77" stroke="#000" stroke-width="1.0"/><line x1="360.6" y1="217.77" x2="371.6" y2="217.77" stroke="#000" stroke-width="1.0"/><line x1="45.6" y1="202.59" x2="51.1" y2="202.59" stroke="#000" stroke-width="1.0"/><line x1="366.1" y1="202.59" x2="371.6" y2="202.59" stroke="#000" stroke-width="1.0"/><line x1="45.6" y1="193.7" x2="51.1" y2="193.7" stroke="#000" stroke-width="1.0"/><line x1="366.1" y1="193.7" x2="371.6" y2="193.7" stroke="#000" stroke-width="1.0"/><line x1="45.6" y1="187.4" x2="51.1" y2="187.4" stroke="#000" stroke-width="1.0"/><line x1="366.1" y1="187.4" x2="371.6" y2="187.4" stroke="#000" stroke-width="1.0"/><line x1="45.6" y1="182.51" x2="51.1" y2="182.51" stroke="#000" stroke-width="1.0"/><line x1="366.1" y1="182.51" x2="371.6" y2="182.51" stroke="#000" stroke-width="1.0"/><line x1="45.6" y1="178.52" x2="51.1" y2="178.52" stroke="#000" stroke-width="1.0"/><line x1="366.1" y1="178.52" x2="371.6" y2="178.52" stroke="#000" stroke-width="1.0"/><line x1="45.6" y1="175.14" x2="51.1" y2="175.14" stroke="#000" stroke-width="1.0"/><line x1="366.1" y1="175.14" x2="371.6" y2="175.14" stroke="#000" stroke-width="1.0"/><line x1="45.6" y1="172.22" x2="51.1" y2="172.22" stroke="#000" stroke-width="1.0"/><line x1="366.1" y1="172.22" x2="371.6" y2="172.22" stroke="#000" stroke-width="1.0"/><line x1="45.6" y1="169.64" x2="51.1" y2="169.64" stroke="#000" stroke-width="1.0"/><line x1="366.1" y1="169.64" x2="371.6" y2="169.64" stroke="#000" stroke-width="1.0"/><line x1="45.6" y1="167.33" x2="56.6" y2="167.33" stroke="#000" stroke-width="1.0"/><line x1="360.6" y1="167.33" x2="371.6" y2="167.33" stroke="#000" stroke-width="1.0"/><line x1="45.6" y1="152.15" x2="51.1" y2="152.15" stroke="#000" stroke-width="1.0"/><line x1="366.1" y1="152.15" x2="371.6" y2="152.15" stroke="#000" stroke-width="1.0"/><line x1="45.6" y1="143.26" x2="51.1" y2="143.26" stroke="#000" stroke-width="1.0"/><line x1="366.1" y1="143.26" x2="371.6" y2="143.26" stroke="#000" stroke-width="1.0"/><line x1="45.6" y1="136.96" x2="51.1" y2="136.96" stroke="#000" stroke-width="1.0"/><line x1="366.1" y1="136.96" x2="371.6" y2="136.96" stroke="#000" stroke-width="1.0"/><line x1="45.6" y1="132.07" x2="51.1" y2="132.07" stroke="#000" stroke-width="1.0"/><line x1="366.1" y1="132.07" x2="371.6" y2="132.07" stroke="#000" stroke-width="1.0"/><line x1="45.6" y1="128.08" x2="51.1" y2="128.08" stroke="#000" stroke-width="1.0"/><line x1="366.1" y1="128.08" x2="371.6" y2="128.08" stroke="#000" stroke-width="1.0"/><line x1="45.6" y1="124.7" x2="51.1" y2="124.7" stroke="#000" stroke-width="1.0"/><line x1="366.1" y1="124.7" x2="371.6" y2="124.7" stroke="#000" stroke-width="1.0"/><line x1="45.6" y1="121.78" x2="51.1" y2="121.78" stroke="#000" stroke-width="1.0"/><line x1="366.1" y1="121.78" x2="371.6" y2="121.78" stroke="#000" stroke-width="1.0"/><line x1="45.6" y1="119.2" x2="51.1" y2="119.2" stroke="#000" stroke-width="1.0"/><line x1="366.1" y1="119.2" x2="371.6" y2="119.2" stroke="#000" stroke-width="1.0"/><line x1="45.6" y1="116.89" x2="56.6" y2="116.89" stroke="#000" stroke-width="1.0"/><line x1="360.6" y1="116.89" x2="371.6" y2="116.89" stroke="#000" stroke-width="1.0"/><line x1="45.6" y1="101.71" x2="51.1" y2="101.71" stroke="#000" stroke-width="1.0"/><line x1="366.1" y1="101.71" x2="371.6" y2="101.71" stroke="#000" stroke-width="1.0"/><line x1="45.6" y1="92.82" x2="51.1" y2="92.82" stroke="#000" stroke-width="1.0"/><line x1="366.1" y1="92.82" x2="371.6" y2="92.82" stroke="#000" stroke-width="1.0"/><line x1="45.6" y1="86.52" x2="51.1" y2="86.52" stroke="#000" stroke-width="1.0"/><line x1="366.1" y1="86.52" x2="371.6" y2="86.52" stroke="#000" stroke-width="1.0"/><line x1="45.6" y1="81.63" x2="51.1" y2="81.63" stroke="#000" stroke-width="1.0"/><line x1="366.1" y1="81.63" x2="371.6" y2="81.63" stroke="#000" stroke-width="1.0"/><line x1="45.6" y1="77.64" x2="51.1" y2="77.64" stroke="#000" stroke-width="1.0"/><line x1="366.1" y1="77.64" x2="371.6" y2="77.64" stroke="#000" stroke-width="1.0"/><line x1="45.6" y1="74.26" x2="51.1" y2="74.26" stroke="#000" stroke-width="1.0"/><line x1="366.1" y1="74.26" x2="371.6" y2="74.26" stroke="#000" stroke-width="1.0"/><line x1="45.6" y1="71.34" x2="51.1" y2="71.34" stroke="#000" stroke-width="1.0"/><line x1="366.1" y1="71.34" x2="371.6" y2="71.34" stroke="#000" stroke-width="1.0"/><line x1="45.6" y1="68.76" x2="51.1" y2="68.76" stroke="#000" stroke-width="1.0"/><line x1="366.1" y1="68.76" x2="371.6" y2="68.76" stroke="#000" stroke-width="1.0"/><line x1="45.6" y1="66.45" x2="56.6" y2="66.45" stroke="#000" stroke-width="1.0"/><line x1="360.6" y1="66.45" x2="371.6" y2="66.45" stroke="#000" stroke-width="1.0"/><line x1="45.6" y1="51.27" x2="51.1" y2="51.27" stroke="#000" stroke-width="1.0"/><line x1="366.1" y1="51.27" x2="371.6" y2="51.27" stroke="#000" stroke-width="1.0"/><line x1="45.6" y1="42.38" x2="51.1" y2="42.38" stroke="#000" stroke-width="1.0"/><line x1="366.1" y1="42.38" x2="371.6" y2="42.38" stroke="#000" stroke-width="1.0"/><line x1="45.6" y1="36.08" x2="51.1" y2="36.08" stroke="#000" stroke-width="1.0"/><line x1="366.1" y1="36.08" x2="371.6" y2="36.08" stroke="#000" stroke-width="1.0"/><line x1="45.6" y1="31.19" x2="51.1" y2="31.19" stroke="#000" stroke-width="1.0"/><line x1="366.1" y1="31.19" x2="371.6" y2="31.19" stroke="#000" stroke-width="1.0"/><line x1="45.6" y1="27.2" x2="51.1" y2="27.2" stroke="#000" stroke-width="1.0"/><line x1="366.1" y1="27.2" x2="371.6" y2="27.2" stroke="#000" stroke-width="1.0"/><line x1="45.6" y1="23.82" x2="51.1" y2="23.82" stroke="#000" stroke-width="1.0"/><line x1="366.1" y1="23.82" x2="371.6" y2="23.82" stroke="#000" stroke-width="1.0"/><line x1="45.6" y1="20.9" x2="51.1" y2="20.9" stroke="#000" stroke-width="1.0"/><line x1="366.1" y1="20.9" x2="371.6" y2="20.9" stroke="#000" stroke-width="1.0"/><line x1="45.6" y1="18.32" x2="51.1" y2="18.32" stroke="#000" stroke-width="1.0"/><line x1="366.1" y1="18.32" x2="371.6" y2="18.32" stroke="#000" stroke-width="1.0"/><line x1="45.6" y1="458.71" x2="53.1" y2="458.71" stroke="#000" stroke-width="1.0"/><line x1="364.1" y1="458.71" x2="371.6" y2="458.71" stroke="#000" stroke-width="1.0"/><line x1="45.6" y1="442.71" x2="50.8" y2="442.71" stroke="#000" stroke-width="1.0"/><line x1="366.4" y1="442.71" x2="371.6" y2="442.71" stroke="#000" stroke-width="1.0"/><line x1="45.6" y1="429.19" x2="50.8" y2="429.19" stroke="#000" stroke-width="1.0"/><line x1="366.4" y1="429.19" x2="371.6" y2="429.19" stroke="#000" stroke-width="1.0"/><line x1="45.6" y1="417.48" x2="50.8" y2="417.48" stroke="#000" stroke-width="1.0"/><line x1="366.4" y1="417.48" x2="371.6" y2="417.48" stroke="#000" stroke-width="1.0"/><line x1="45.6" y1="407.14" x2="50.8" y2="407.14" stroke="#000" stroke-width="1.0"/><line x1="366.4" y1="407.14" x2="371.6" y2="407.14" stroke="#000" stroke-width="1.0"/><line x1="45.6" y1="397.9" x2="53.1" y2="397.9" stroke="#000" stroke-width="1.0"/><line x1="364.1" y1="397.9" x2="371.6" y2="397.9" stroke="#000" stroke-width="1.0"/><line x1="45.6" y1="389.54" x2="50.8" y2="389.54" stroke="#000" stroke-width="1.0"/><line x1="366.4" y1="389.54" x2="371.6" y2="389.54" stroke="#000" stroke-width="1.0"/><line x1="45.6" y1="381.91" x2="50.8" y2="381.91" stroke="#000" stroke-width="1.0"/><line x1="366.4" y1="381.91" x2="371.6" y2="381.91" stroke="#000" stroke-width="1.0"/><line x1="45.6" y1="374.88" x2="50.8" y2="374.88" stroke="#000" stroke-width="1.0"/><line x1="366.4" y1="374.88" x2="371.6" y2="374.88" stroke="#000" stroke-width="1.0"/><line x1="45.6" y1="368.38" x2="50.8" y2="368.38" stroke="#000" stroke-width="1.0"/><line x1="366.4" y1="368.38" x2="371.6" y2="368.38" stroke="#000" stroke-width="1.0"/><line x1="45.6" y1="362.33" x2="50.8" y2="362.33" stroke="#000" stroke-width="1.0"/><line x1="366.4" y1="362.33" x2="371.6" y2="362.33" stroke="#000" stroke-width="1.0"/><line x1="45.6" y1="356.67" x2="50.8" y2="356.67" stroke="#000" stroke-width="1.0"/><line x1="366.4" y1="356.67" x2="371.6" y2="356.67" stroke="#000" stroke-width="1.0"/><line x1="45.6" y1="351.35" x2="50.8" y2="351.35" stroke="#000" stroke-width="1.0"/><line x1="366.4" y1="351.35" x2="371.6" y2="351.35" stroke="#000" stroke-width="1.0"/><line x1="45.6" y1="346.33" x2="50.8" y2="346.33" stroke="#000" stroke-width="1.0"/><line x1="366.4" y1="346.33" x2="371.6" y2="346.33" stroke="#000" stroke-width="1.0"/><line x1="45.6" y1="341.59" x2="50.8" y2="341.59" stroke="#000" stroke-width="1.0"/><line x1="366.4" y1="341.59" x2="371.6" y2="341.59" stroke="#000" stroke-width="1.0"/><line x1="45.6" y1="337.09" x2="53.1" y2="337.09" stroke="#000" stroke-width="1.0"/><line x1="364.1" y1="337.09" x2="371.6" y2="337.09" stroke="#000" stroke-width="1.0"/><line x1="45.6" y1="332.81" x2="50.8" y2="332.81" stroke="#000" stroke-width="1.0"/><line x1="366.4" y1="332.81" x2="371.6" y2="332.81" stroke="#000" stroke-width="1.0"/><line x1="45.6" y1="328.73" x2="50.8" y2="328.73" stroke="#000" stroke-width="1.0"/><line x1="366.4" y1="328.73" x2="371.6" y2="328.73" stroke="#000" stroke-width="1.0"/><line x1="45.6" y1="324.83" x2="50.8" y2="324.83" stroke="#000" stroke-width="1.0"/><line x1="366.4" y1="324.83" x2="371.6" y2="324.83" stroke="#000" stroke-width="1.0"/><line x1="45.6" y1="321.1" x2="50.8" y2="321.1" stroke="#000" stroke-width="1.0"/><line x1="366.4" y1="321.1" x2="371.6" y2="321.1" stroke="#000" stroke-width="1.0"/></g>
<g font-family="Liberation Sans, sans-serif" fill="#000" style="will-change:transform"><text x="50.9" y="13.7" font-size="12.3">2360 GeV pp</text><text x="366.6" y="13.7" font-size="12.3" text-anchor="end">Soft QCD</text><text x="81.0" y="43.3" font-size="12.15">Charged multiplicity,</text><text x="193.5" y="43.3" font-size="12">|</text><text x="195.0" y="43.3" font-size="10.5">η</text><text x="200.6" y="43.3" font-size="12">|&lt;1.0</text><text x="229.8" y="43.3" font-size="12">,</text><text x="232.3" y="43.6" font-size="12.5">√</text><line x1="238.6" y1="33.3" x2="244.3" y2="33.3" stroke="#000" stroke-width="0.9"/><text x="238.6" y="43.3" font-size="12">s</text><text x="243.2" y="43.3" font-size="12.3">=2.36 TeV (INEL)</text><text x="39.8" y="71.2" font-size="11.3" text-anchor="end">1</text><text x="40.3" y="117.8" font-size="7.3" text-anchor="end">−1</text><text x="33.6" y="122.1" font-size="11.2" text-anchor="end">10</text><text x="40.3" y="168.1" font-size="7.3" text-anchor="end">−2</text><text x="31.5" y="172.4" font-size="11.2" text-anchor="end">10</text><text x="40.3" y="218.6" font-size="7.3" text-anchor="end">−3</text><text x="31.5" y="222.9" font-size="11.2" text-anchor="end">10</text><text x="40.3" y="269" font-size="7.3" text-anchor="end">−4</text><text x="31.5" y="273.3" font-size="11.2" text-anchor="end">10</text><text x="38.6" y="340.69" font-size="11.7" text-anchor="end">2</text><text x="373.4" y="340.79" font-size="12">2</text><text x="38.6" y="401.5" font-size="11.7" text-anchor="end">1</text><text x="373.4" y="401.6" font-size="12">1</text><text x="38.6" y="462.31" font-size="11.7" text-anchor="end">0.5</text><text x="373.4" y="462.41" font-size="12">0.5</text><text x="54.7" y="489" font-size="12" text-anchor="middle">0</text><text x="177.55" y="489" font-size="12" text-anchor="middle">20</text><text x="300.4" y="489" font-size="12" text-anchor="middle">40</text><text x="354" y="502.9" font-size="13">N<tspan font-size="8.3" dy="3.8">ch</tspan></text><text transform="translate(15.1,58.8) rotate(-90)" font-size="11.9">dN/dN<tspan font-size="7.6" dy="3.2">ch</tspan></text><text transform="translate(18.3,426.2) rotate(-90)" font-size="9.1">Ratio to ALICE</text><text transform="translate(380.1,119.0) rotate(-90)" font-size="9.33" fill="#777">Rivet 4.1.0, ≥ 4M events</text><text transform="translate(380.9,313.3) rotate(-90)" font-size="9.35" fill="#777">mcplots.cern.ch [arXiv:2401.10621]</text><text x="94" y="236.7" font-size="9.45">ALICE</text><text x="94" y="249.7" font-size="9.45">Herwig++ 2.7.1 default</text><text x="94" y="262.9" font-size="9.45">Herwig 7.2.1 default</text><text x="94" y="275.5" font-size="9.45">Pythia 8.315 default</text><text x="166.9" y="301.8" font-size="7.98" fill="#999">(ALICE_2010_I852450)</text></g>
<rect x="73.8" y="231.1" width="5.6" height="5.6" fill="#000"/><line x1="64" y1="246.9" x2="88.5" y2="246.9" stroke="#b35a0a" stroke-width="1" stroke-dasharray="2.5,2" opacity="0.7"/><circle cx="76.6" cy="246.9" r="2.5" fill="none" stroke="#b35a0a" stroke-width="1.1"/><line x1="64" y1="259.4" x2="88.5" y2="259.4" stroke="#3c9a1e" stroke-width="1" stroke-dasharray="2.5,2" opacity="0.7"/><rect x="74.1" y="256.9" width="5" height="5" fill="none" stroke="#3c9a1e" stroke-width="1.2"/><line x1="64" y1="272.7" x2="88.5" y2="272.7" stroke="#0000e6" stroke-width="1" opacity="0.7"/><path d="M76.6 269.8L79.2 275.6L74 275.6Z" fill="#0000e6"/>
</svg>
</body></html>
